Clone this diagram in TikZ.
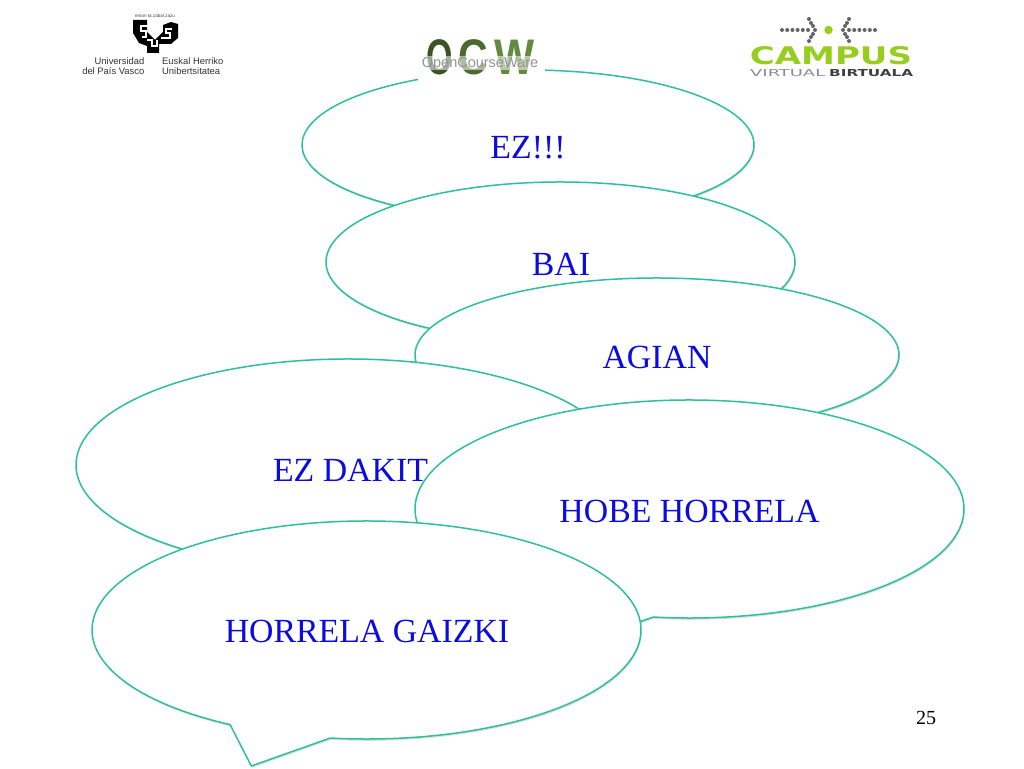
\documentclass[tikz,border=0pt]{standalone}
\usepackage{fontspec}
\usepackage{graphicx}
\setmainfont{Liberation Serif}
\newfontfamily\logosans{Liberation Sans}
\newfontfamily\logoblock{DejaVu Sans}
\usetikzlibrary{shadows,calc}
\definecolor{bubbleline}{RGB}{44,192,155}
\definecolor{bubbletext}{RGB}{10,10,225}
\definecolor{limegreen}{RGB}{150,205,30}
\definecolor{dotgrey}{RGB}{100,100,100}
\definecolor{ocwdark}{RGB}{58,84,36}
\definecolor{ocwmid}{RGB}{100,138,62}
\tikzset{
  x=1pt,y=1pt,
  bubbleshape/.style={draw=bubbleline,fill=white,line width=1.5pt,line join=round,
     drop shadow={shadow xshift=.8pt,shadow yshift=-1.8pt,opacity=.13,fill=black}},
  bubblelabel/.style={text=bubbletext,font=\fontsize{33.8}{38}\selectfont,inner sep=0pt},
  unitext/.style={font=\logosans\fontsize{9.4}{10.4}\selectfont,text=black!80,inner sep=0pt,align=left},
  ocwletter/.style={inner sep=0pt,font=\logosans\bfseries\fontsize{50}{50}\selectfont},
  campusdot/.style={fill=dotgrey,draw=none},
  shieldcut/.style={draw=white,line width=2.4pt,line join=miter},
}
% centre x, centre y (pixels from the top), radii, name, text, text x, text y
\newcommand{\speech}[8]{%
  \path[bubbleshape]
    ($(#1,768-#2)+(262.4:#3 and #4)$)
    arc[start angle=262.4,end angle=600.2,x radius=#3,y radius=#4]
    -- ($(#1,768-#2)+({-0.4197*#3},{-1.2477*#4})$) -- cycle;
  \node[bubblelabel] (#5) at (#7,768-#8) {#6};
}
\begin{document}
\begin{tikzpicture}
\useasboundingbox (0,0) rectangle (1024,768);
\fill[white] (0,0) rectangle (1024,768);

\speech{528}{145}{226}{75}{ez}{EZ!!!}{528}{148}
\speech{560.5}{262}{234.5}{80}{bai}{BAI}{561}{264}
\speech{657}{355}{242}{77}{agian}{AGIAN}{657}{357}
\speech{348}{465}{272}{106}{ezdakit}{EZ DAKIT}{350.5}{470}
\speech{689.5}{509}{274.5}{109}{hobe}{HOBE HORRELA}{689.5}{511}
\speech{366.5}{630}{274.5}{109}{gaizki}{HORRELA GAIZKI}{367}{631}

\node[inner sep=0pt,font=\fontsize{20}{24}\selectfont] (page) at (926,768-718) {25};

% OCW logo
\fill[white] (418,768-80) rectangle (545,768-36);
\node[ocwletter,text=ocwdark,xscale=.68] (ocwO) at (440,768-57) {O};
\node[ocwletter,text=ocwdark!60!ocwmid,xscale=.82] (ocwC) at (473,768-57) {C};
\node[ocwletter,text=ocwmid,xscale=.85] (ocwW) at (515,768-57) {W};
\fill[white,opacity=.55] (421,768-70) rectangle (540,768-56);
\node[inner sep=0pt,font=\logosans\fontsize{14.5}{15}\selectfont,text=black!42] (ocwtext) at (480,768-63.5) {OpenCourseWare};

% UPV/EHU logo
\node[inner sep=0pt,font=\logosans\fontsize{4.6}{5}\selectfont,text=black!75] (motto) at (155,768-15.5) {eman ta zabal zazu};
\fill[black] (133,768-20) -- (147,768-20) -- (147,768-32) -- (155,768-40) -- (163,768-32) -- (163,768-25)
  -- (171,768-22) -- (178,768-24) -- (178,768-38) -- (171,768-44) -- (159,768-44) -- (159,768-53)
  -- (147,768-53) -- (147,768-46) -- (139,768-43) -- (133,768-33) -- cycle;
\draw[shieldcut] (148,768-26) -- (141,768-26) -- (141,768-31) -- (146,768-31) -- (146,768-37) -- (142,768-37);
\draw[shieldcut] (147,768-40) -- (152,768-40) -- (152,768-46) -- (157,768-46) -- (157,768-40);
\draw[shieldcut] (172,768-29) -- (166,768-29) -- (166,768-33) -- (170,768-33) -- (170,768-38) -- (161,768-38);
\node[unitext,anchor=east,align=right] (unies) at (144.5,768-66) {Universidad\\del País Vasco};
\node[unitext,anchor=west] (unieu) at (162,768-66) {Euskal Herriko\\Unibertsitatea};

% Campus Virtual logo
\foreach \dx in {0,1,2,3,4,5} {
  \fill[campusdot] (782+\dx*5.2,768-30) circle (2);
  \fill[campusdot] (875-\dx*5.2,768-30) circle (2);
}
\foreach \px/\py in {809/19,811/23,813/26,815/30,813/34,811/37,809/41} {
  \fill[campusdot] (\px,768-\py) circle (2);
  \fill[campusdot] (1658-\px,768-\py) circle (2);
}
\fill[limegreen] (828.5,768-30) circle (4.2);
\node[inner sep=0pt,text=limegreen] (campus) at (831,768-56) {\resizebox{162pt}{18pt}{\logoblock\bfseries CAMPUS}};
\node[inner sep=0pt,text=black!45,anchor=west] (virtual) at (750,768-73) {\resizebox{75pt}{7pt}{\logoblock VIRTUAL}};
\node[inner sep=0pt,text=black!75,anchor=west] (birtuala) at (829,768-73) {\resizebox{84pt}{7pt}{\logoblock\bfseries BIRTUALA}};
\end{tikzpicture}
\end{document}
